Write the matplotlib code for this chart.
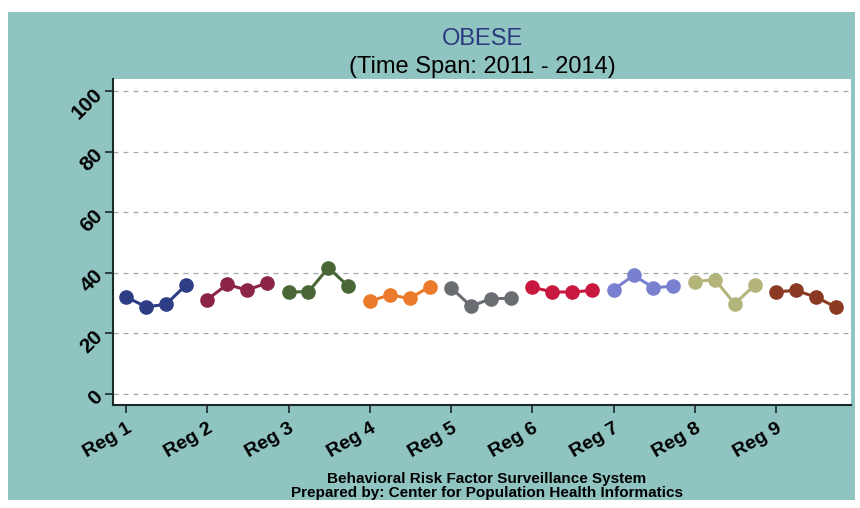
import matplotlib
matplotlib.use("Agg")
import matplotlib.pyplot as plt
from matplotlib.patches import Rectangle

# Datos (porcentaje de obesos por región, 2011-2014)
regiones = ["Reg 1", "Reg 2", "Reg 3", "Reg 4", "Reg 5", "Reg 6", "Reg 7", "Reg 8", "Reg 9"]
anios = [2011, 2012, 2013, 2014]
reg1 = [32.1, 28.8, 29.6, 35.9]
reg2 = [31.2, 36.2, 34.3, 36.7]
reg3 = [33.7, 33.8, 41.7, 35.6]
reg4 = [30.7, 32.7, 31.6, 35.4]
reg5 = [35.1, 29.0, 31.5, 31.6]
reg6 = [35.3, 33.7, 33.7, 34.2]
reg7 = [34.5, 39.2, 35.1, 35.6]
reg8 = [37.1, 37.8, 29.8, 36.0]
reg9 = [33.8, 34.2, 32.0, 28.7]
valores = [reg1, reg2, reg3, reg4, reg5, reg6, reg7, reg8, reg9]
colores = ["#2d3d86", "#8c2448", "#4a6636", "#ec7a2c", "#6a6d72",
           "#c9183f", "#7a80d0", "#b3b47a", "#8a3a22"]
y_ticks = [0, 20, 40, 60, 80, 100]

plt.rcParams["font.family"] = ["Liberation Sans", "DejaVu Sans"]

fig = plt.figure(figsize=(8.6, 5.08), dpi=100)
fig.patch.set_facecolor("white")
# Marco de fondo verde azulado (detrás de los ejes)
fig.patches.append(Rectangle((8 / 860, 8 / 508), 847 / 860, 488 / 508,
                             transform=fig.transFigure, facecolor="#8fc4c0",
                             edgecolor="none", zorder=-5))

ax = fig.add_axes([113 / 860, 103 / 508, 738 / 860, 326 / 508])
ax.set_facecolor("white")

paso = 0.245
for i, (vals, color) in enumerate(zip(valores, colores)):
    xs = [i + j * paso for j in range(len(anios))]
    ax.plot(xs, vals, "-o", color=color, linewidth=2.2, markersize=9.5, zorder=3)

for y in y_ticks:
    ax.axhline(y, color="#a4aaaa", linewidth=0.9, linestyle=(0, (4, 4)), zorder=1)

ax.set_xlim(-0.16, 8.92)
ax.set_ylim(-3.6, 104)
ax.set_xticks(range(len(regiones)))
ax.set_xticklabels(regiones, rotation=30, ha="right", rotation_mode="anchor",
                   fontsize=14, fontweight="bold")
ax.set_yticks(y_ticks)
ax.set_yticklabels([str(v) for v in y_ticks], rotation=45, fontsize=15,
                   fontweight="bold", ha="right", va="center", rotation_mode="anchor")
ax.tick_params(axis="both", direction="out", length=6, width=1.2, color="#1a2a2a")
ax.tick_params(axis="x", pad=5)
for lado in ["top", "right"]:
    ax.spines[lado].set_visible(False)
for lado in ["left", "bottom"]:
    ax.spines[lado].set_linewidth(1.5)
    ax.spines[lado].set_color("#1a2a2a")

fig.text(482 / 860, 1 - 39 / 508, "OBESE", ha="center", va="center",
         fontsize=17, color="#2b3a80")
fig.text(482 / 860, 1 - 67 / 508, "(Time Span: 2011 - 2014)", ha="center",
         va="center", fontsize=17, color="black")
fig.text(487 / 860, 1 - 479 / 508, "Behavioral Risk Factor Surveillance System",
         ha="center", va="center", fontsize=11, fontweight="bold")
fig.text(487 / 860, 1 - 493 / 508, "Prepared by: Center for Population Health Informatics",
         ha="center", va="center", fontsize=11, fontweight="bold")

fig.savefig("out.png", dpi=100, facecolor=fig.get_facecolor())
